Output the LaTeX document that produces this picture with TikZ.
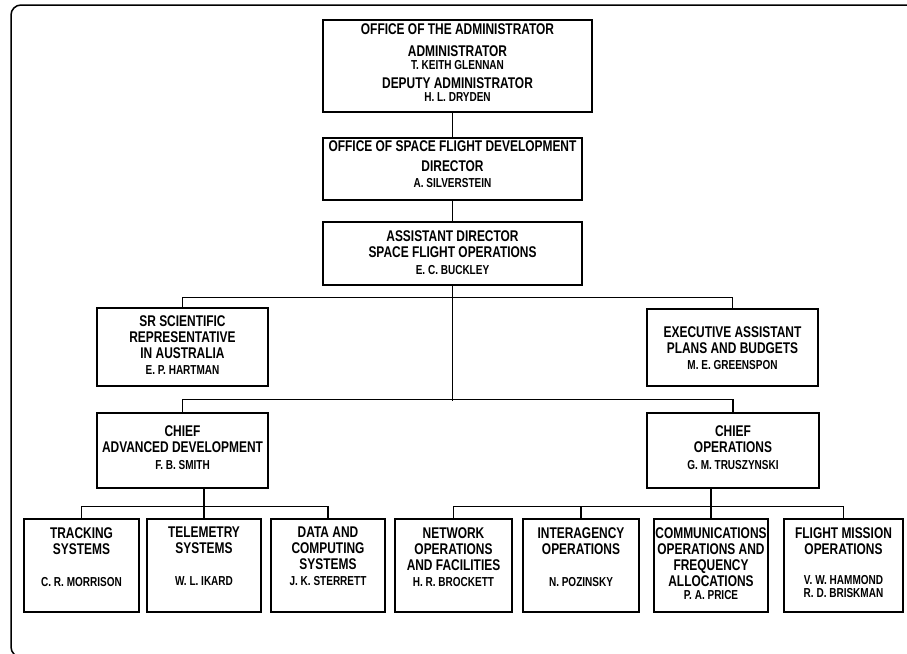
\documentclass[tikz,border=0pt]{standalone}
\usepackage{fontspec}
\setmainfont{Liberation Sans}[FakeStretch=0.77]
\usetikzlibrary{positioning,calc}
\newcommand\ttlfont{\fontsize{15.5}{16}\selectfont\bfseries}
\newcommand\nm[1]{{\fontsize{13}{16}\selectfont #1}}

\begin{document}
\begin{tikzpicture}[
    x=1pt, y=-1pt,
    box/.style={draw, line width=1.2pt, inner sep=0pt},
    unit/.style={box, minimum height=93pt},
    ttl/.style={inner sep=0pt, align=center, font=\ttlfont},
    link/.style={draw, line width=1.1pt}
]
\useasboundingbox (0,0) rectangle (907,653);
\draw[line width=1.5pt, rounded corners=10pt] (11,5) rectangle (916,657);

% Boxes
\node[box, minimum width=269pt, minimum height=92pt] (admin) at (457.5,66) {};
\node[box, minimum width=259pt, minimum height=62pt] (osfd) at (452.5,169) {};
\node[box, minimum width=259pt, minimum height=63pt] (asfo) at (452.5,253.5) {};
\node[box, minimum width=171pt, minimum height=78pt] (sr) at (182.5,347) {};
\node[box, minimum width=171pt, minimum height=77pt] (exec) at (732.5,347.5) {};
\node[box, minimum width=171pt, minimum height=75pt] (adv) at (182.5,450.5) {};
\node[box, minimum width=172pt, minimum height=75pt] (ops) at (733,450.5) {};

\node[unit, minimum width=115pt] (tracking) at (81.5,565.5) {};
\node[unit, minimum width=114pt] (telemetry) at (204,565.5) {};
\node[unit, minimum width=114pt] (data) at (328,565.5) {};
\node[unit, minimum width=117pt] (network) at (453.5,565.5) {};
\node[unit, minimum width=116pt] (interagency) at (581,565.5) {};
\node[unit, minimum width=114pt] (comms) at (711,565.5) {};
\node[unit, minimum width=119pt] (flight) at (843.5,565.5) {};

% Texts
\node[ttl, below=3.7pt of admin.north] (admintx) {OFFICE OF THE ADMINISTRATOR\\[6pt]
    ADMINISTRATOR\\[-3pt] \nm{T. KEITH GLENNAN}\\[3pt]
    DEPUTY ADMINISTRATOR\\[-3pt] \nm{H. L. DRYDEN}};
\node[ttl, below=2.7pt of osfd.north] (osfdtx) {OFFICE OF SPACE FLIGHT DEVELOPMENT\\[4pt]
    DIRECTOR\\ \nm{A. SILVERSTEIN}};
\node[ttl, below=8.7pt of asfo.north] (asfotx) {ASSISTANT DIRECTOR\\ SPACE FLIGHT OPERATIONS\\[1pt]
    \nm{E. C. BUCKLEY}};
\node[ttl, below=7.7pt of sr.north] (srtx) {SR SCIENTIFIC\\ REPRESENTATIVE\\ IN AUSTRALIA\\
    \nm{E. P. HARTMAN}};
\node[ttl, below=18.2pt of exec.north] (exectx) {EXECUTIVE ASSISTANT\\ PLANS AND BUDGETS\\
    \nm{M. E. GREENSPON}};
\node[ttl, below=12.7pt of adv.north] (advtx) {CHIEF\\ ADVANCED DEVELOPMENT\\[1pt] \nm{F. B. SMITH}};
\node[ttl, below=12.7pt of ops.north] (opstx) {CHIEF\\ OPERATIONS\\[1pt] \nm{G. M. TRUSZYNSKI}};

\node[ttl, below=8.7pt of tracking.north] (trackingtx) {TRACKING\\ SYSTEMS\\[16pt] \nm{C. R. MORRISON}};
\node[ttl, below=8.7pt of telemetry.north] (telemetrytx) {TELEMETRY\\ SYSTEMS\\[16pt] \nm{W. L. IKARD}};
\node[ttl, below=8.7pt of data.north] (datatx) {DATA AND\\ COMPUTING\\ SYSTEMS\\ \nm{J. K. STERRETT}};
\node[ttl, below=8.7pt of network.north] (networktx) {NETWORK\\ OPERATIONS\\ AND FACILITIES\\
    \nm{H. R. BROCKETT}};
\node[ttl, below=8.7pt of interagency.north] (interagencytx) {INTERAGENCY\\ OPERATIONS\\[16pt]
    \nm{N. POZINSKY}};
\node[ttl, below=8.7pt of comms.north] (commstx) {COMMUNICATIONS\\ OPERATIONS AND\\ FREQUENCY\\
    ALLOCATIONS\\[-3pt] \nm{P. A. PRICE}};
\node[ttl, below=8.7pt of flight.north] (flighttx) {FLIGHT MISSION\\ OPERATIONS\\[14pt]
    \nm{V. W. HAMMOND}\\[-3pt] \nm{R. D. BRISKMAN}};

% Connections
\path[link] (osfd.north) -- (osfd.north |- admin.south);
\path[link] (osfd) -- (asfo);
\path[link] (asfo.south) -- ++(0,115);
\path[link] (sr.north) -- ++(0,-10) -| (exec.north);
\path[link] (adv.north) -- ++(0,-13) -| (ops.north);
\path[link] (tracking.north) -- ++(0,-12) -| (data.north);
\path[link] (adv.south -| telemetry.north) -- (telemetry.north);
\path[link] (network.north) -- ++(0,-12) -| (flight.north);
\path[link] (interagency.north) -- ++(0,-12);
\path[link] (ops.south -| comms.north) -- (comms.north);

\end{tikzpicture}
\end{document}
